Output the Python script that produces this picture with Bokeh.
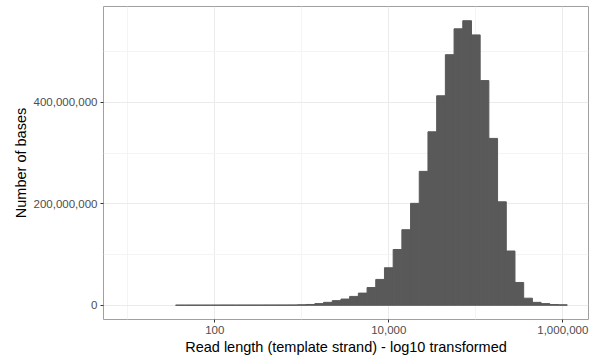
import numpy as np
from bokeh.plotting import figure
from bokeh.models import Range1d, FixedTicker, ColumnDataSource
from bokeh.embed import file_html
from bokeh.resources import INLINE

# ---- data ----
# histogram bins in log10(read length), bin width 0.1
bin_centers_log10 = [1.6, 1.7, 1.8, 1.9, 2.0, 2.1, 2.2, 2.3, 2.4, 2.5,
                     2.6, 2.7, 2.8, 2.9, 3.0, 3.1, 3.2, 3.3, 3.4, 3.5,
                     3.6, 3.7, 3.8, 3.9, 4.0, 4.1, 4.2, 4.3, 4.4, 4.5,
                     4.6, 4.7, 4.8, 4.9, 5.0, 5.1, 5.2, 5.3, 5.4, 5.5,
                     5.6, 5.7, 5.8, 5.9, 6.0]
bin_width_log10 = 0.1
bases_millions = [0.4, 0.4, 0.4, 0.4, 0.4, 0.5, 0.5, 0.5, 0.5, 0.5,
                  0.6, 0.6, 0.6, 0.7, 1.0, 1.6, 3.3, 5.8, 9.2, 12.3,
                  17.5, 24.0, 35.0, 51.0, 74.0, 110.0, 149.0, 201.0, 264.0, 342.0,
                  413.0, 494.0, 545.0, 561.0, 533.0, 443.0, 329.0, 204.0, 107.0, 45.0,
                  14.0, 5.8, 3.3, 1.5, 1.0]

x_major_ticks = [100, 10000, 1000000]
x_major_labels = ["100", "10,000", "1,000,000"]
x_minor_ticks = [10, 1000, 100000]
y_major_ticks = [0, 200000000, 400000000]
y_major_labels = ["0", "200,000,000", "400,000,000"]
y_minor_ticks = [100000000, 300000000, 500000000]

x_title = "Read length (template strand) - log10 transformed"
y_title = "Number of bases"

# ---- build source ----
c = np.array(bin_centers_log10)
src = ColumnDataSource(dict(
    left=10 ** (c - bin_width_log10 / 2),
    right=10 ** (c + bin_width_log10 / 2),
    top=np.array(bases_millions) * 1e6,
    bottom=np.zeros(len(c)),
))

FONT = "Liberation Sans"

p = figure(width=589, height=357, x_axis_type="log",
           output_backend="svg", toolbar_location=None,
           min_border_left=103, min_border_right=1,
           min_border_top=6, min_border_bottom=36)

p.x_range = Range1d(10 ** 0.721, 10 ** 6.295)
p.y_range = Range1d(-28e6, 589e6)

p.quad(left="left", right="right", top="top", bottom="bottom",
       source=src, fill_color="#595959", line_color="#595959",
       line_width=1)

p.background_fill_color = "white"
p.border_fill_color = "white"
p.outline_line_color = "#a0a0a0"
p.outline_line_width = 1

p.xaxis.ticker = FixedTicker(ticks=x_major_ticks, minor_ticks=x_minor_ticks)
p.yaxis.ticker = FixedTicker(ticks=y_major_ticks, minor_ticks=y_minor_ticks)
p.xaxis.major_label_overrides = {t: l for t, l in zip(x_major_ticks, x_major_labels)}
p.yaxis.major_label_overrides = {t: l for t, l in zip(y_major_ticks, y_major_labels)}

for ax in (p.xaxis, p.yaxis):
    ax.axis_line_color = None
    ax.major_tick_line_color = "#333333"
    ax.major_tick_out = 3
    ax.major_tick_in = 0
    ax.minor_tick_line_color = None
    ax.major_label_text_font = FONT
    ax.major_label_text_font_size = "11.5px"
    ax.major_label_text_color = "#4d4d4d"
    ax.major_label_standoff = 2
    ax.axis_label_text_font = FONT
    ax.axis_label_text_font_size = "14.5px"
    ax.axis_label_text_font_style = "normal"
    ax.axis_label_text_color = "black"
    ax.axis_label_standoff = 2

p.xaxis.axis_label = x_title
p.yaxis.axis_label = y_title

for g in (p.xgrid, p.ygrid):
    g.grid_line_color = "#ebebeb"
    g.grid_line_width = 1
    g.minor_grid_line_color = "#f4f4f4"
    g.minor_grid_line_width = 1

open("out.html", "w").write(file_html(p, INLINE))
